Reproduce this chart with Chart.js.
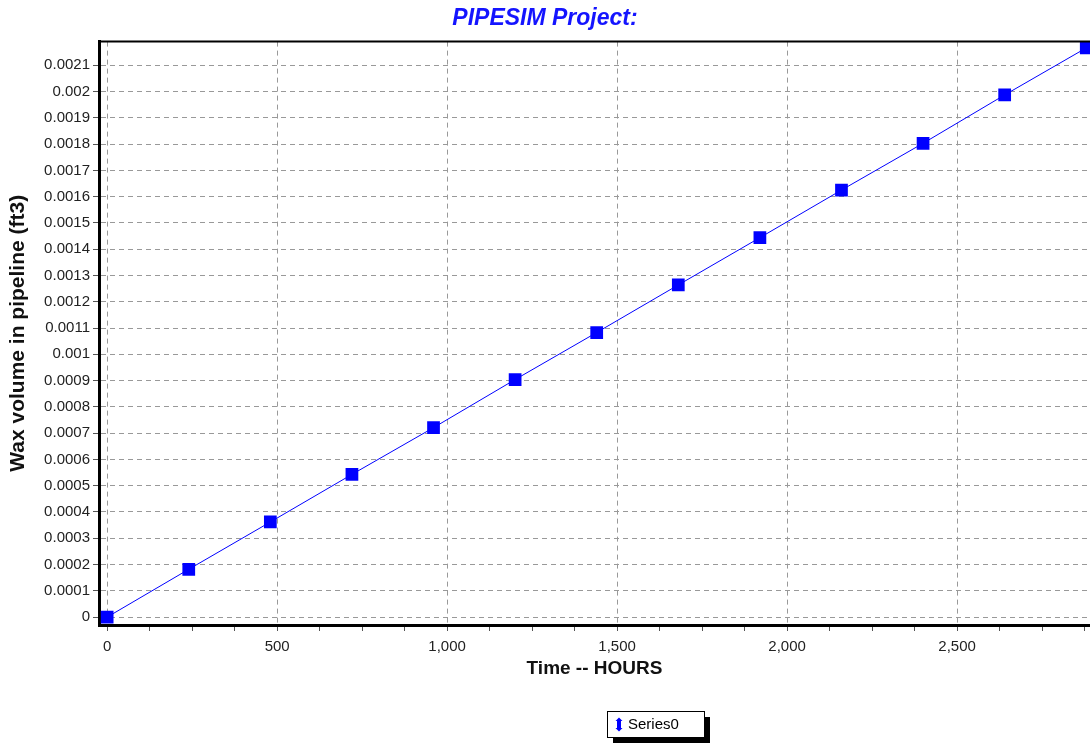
<!DOCTYPE html>
<html>
<head>
<meta charset="utf-8">
<script src="https://cdn.jsdelivr.net/npm/chart.js@4/dist/chart.umd.min.js"></script>
<style>
  html, body { margin: 0; padding: 0; background: #fff; }
  #wrap { width: 1090px; height: 744px; }
</style>
</head>
<body>
<div id="wrap"><canvas id="waxChart" width="1090" height="744"></canvas></div>
<script>
// Data
var hours = [0, 240, 480, 720, 960, 1200, 1440, 1680, 1920, 2160, 2400, 2640, 2880]
var waxVolume = [0, 0.000182, 0.000362, 0.000543, 0.000721, 0.000904, 0.001083, 0.001264, 0.001444, 0.001625, 0.001803, 0.001987, 0.002166]
var xTickValues = [0, 500, 1000, 1500, 2000, 2500]
var seriesName = 'Series0'

var blue = '#0000ff'
var fontFamily = '"Liberation Sans", Arial, sans-serif'

// frame on top + boxed legend with shadow
var framePlugin = {
    id: 'frame',
    afterDraw: function (chart) {
        var ctx = chart.ctx
        var a = chart.chartArea
        ctx.save()
        ctx.strokeStyle = '#000'
        ctx.lineWidth = 2
        ctx.beginPath()
        ctx.moveTo(a.left, a.top)
        ctx.lineTo(a.right, a.top)
        ctx.stroke()

        // legend
        var ds = chart.data.datasets[0]
        var bx = 607, by = 711, bw = 97, bh = 26
        ctx.fillStyle = '#000'
        ctx.fillRect(bx + 6, by + 6, bw, bh)
        ctx.fillStyle = '#fff'
        ctx.fillRect(bx, by, bw, bh)
        ctx.lineWidth = 1
        ctx.strokeStyle = '#000'
        ctx.strokeRect(bx + 0.5, by + 0.5, bw, bh)
        ctx.fillStyle = ds.borderColor
        ctx.fillRect(bx + 10, by + 9, 4, 9)
        ctx.beginPath()
        ctx.moveTo(bx + 8.5, by + 10); ctx.lineTo(bx + 12, by + 6.5); ctx.lineTo(bx + 15.5, by + 10)
        ctx.moveTo(bx + 8.5, by + 17); ctx.lineTo(bx + 12, by + 20.5); ctx.lineTo(bx + 15.5, by + 17)
        ctx.fill()
        ctx.fillStyle = '#000'
        ctx.font = '15px ' + fontFamily
        ctx.textBaseline = 'middle'
        ctx.fillText(ds.label, bx + 21, by + bh / 2 + 1)
        ctx.restore()
    }
}

var ctx = document.getElementById('waxChart').getContext('2d')
var myChart = new Chart(ctx, {
    type: 'line',
    data: {
        datasets: [{
            label: seriesName,
            data: hours.map(function (h, i) { return { x: h, y: waxVolume[i] } }),
            borderColor: blue,
            backgroundColor: blue,
            borderWidth: 1,
            pointStyle: 'rect',
            pointRadius: 9,
            pointHoverRadius: 9,
            pointBorderWidth: 0,
            tension: 0
        }]
    },
    options: {
        responsive: false,
        animation: false,
        layout: { padding: 0, autoPadding: false },
        plugins: {
            legend: { display: false },
            tooltip: { enabled: false },
            title: {
                display: true,
                text: 'PIPESIM Project:',
                color: '#1414ff',
                font: { family: fontFamily, size: 23, weight: 'bold', style: 'italic' },
                padding: { top: 5, bottom: 9 }
            }
        },
        scales: {
            x: {
                type: 'linear',
                min: -24,
                max: 2891,
                afterBuildTicks: function (scale) {
                    var t = []
                    for (var v = 0; v <= 2875; v += 125) t.push({ value: v })
                    scale.ticks = t
                },
                afterFit: function (scale) {
                    scale.height = 119
                    scale.paddingLeft = 0
                    scale.paddingRight = 0
                },
                ticks: {
                    includeBounds: false,
                    autoSkip: false,
                    maxRotation: 0,
                    padding: 7,
                    color: '#222',
                    font: { family: fontFamily, size: 15 },
                    callback: function (v) {
                        return xTickValues.indexOf(v) >= 0 ? v.toLocaleString('en-US') : ''
                    }
                },
                grid: {
                    color: function (c) {
                        return c.tick && xTickValues.indexOf(c.tick.value) >= 0 ? '#999' : 'rgba(0,0,0,0)'
                    },
                    lineWidth: 1,
                    tickColor: '#555',
                    tickLength: 6
                },
                border: { display: true, color: '#000', width: 3, dash: [5, 4] },
                title: {
                    display: true,
                    text: 'Time -- HOURS',
                    color: '#111',
                    font: { family: fontFamily, size: 19, weight: 'bold' },
                    padding: { top: 4, bottom: 64 }
                }
            },
            y: {
                type: 'linear',
                min: -0.00003,
                max: 0.00219,
                afterFit: function (scale) {
                    scale.width = 99
                    scale.paddingTop = 0
                    scale.paddingBottom = 0
                },
                ticks: {
                    includeBounds: false,
                    stepSize: 0.0001,
                    autoSkip: false,
                    padding: 3,
                    color: '#222',
                    font: { family: fontFamily, size: 15 },
                    callback: function (v) { return String(Number(v.toFixed(4))) }
                },
                grid: {
                    color: '#999',
                    lineWidth: 1,
                    tickColor: '#555',
                    tickLength: 6
                },
                border: { display: true, color: '#000', width: 3, dash: [5, 4] },
                title: {
                    display: true,
                    text: 'Wax volume in pipeline (ft3)',
                    color: '#111',
                    font: { family: fontFamily, size: 21, weight: 'bold' },
                    padding: { top: 6, bottom: 0 }
                }
            }
        }
    },
    plugins: [framePlugin]
})
</script>
</body>
</html>
